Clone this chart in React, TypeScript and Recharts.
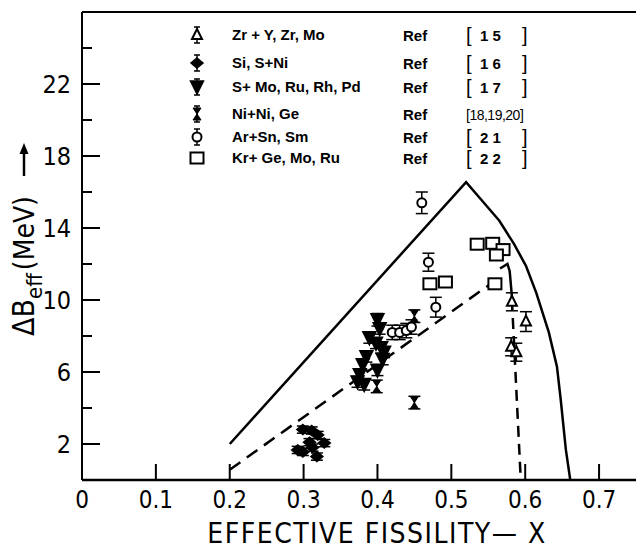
import React from 'react';
import { ComposedChart, XAxis, YAxis, Line, Scatter, ErrorBar, ReferenceLine } from 'recharts';

const xTicks = [0, 0.1, 0.2, 0.3, 0.4, 0.5, 0.6, 0.7];
const yTicks = [2, 4, 6, 8, 10, 12, 14, 16, 18, 20, 22, 24];
const yLabelled = [2, 6, 10, 14, 18, 22];

// Zr + Y,Zr,Mo  [15]
const zrX = [0.582, 0.601, 0.581, 0.588];
const zrY = [9.9, 8.8, 7.4, 7.1];
const zrErr = [0.5, 0.55, 0.5, 0.5];
// Si, S+Ni  [16]
const siX = [0.299, 0.311, 0.319, 0.328, 0.292, 0.299, 0.312, 0.318, 0.308];
const siY = [2.8, 2.75, 2.5, 2.05, 1.67, 1.56, 1.8, 1.3, 2.1];
const siErr = [0.2, 0.2, 0.2, 0.2, 0.2, 0.2, 0.2, 0.2, 0.2];
// S+Mo,Ru,Rh,Pd  [17]
const smX = [0.4, 0.403, 0.389, 0.398, 0.405, 0.385, 0.407, 0.38, 0.4, 0.376, 0.373, 0.382, 0.409];
const smY = [8.9, 8.4, 7.9, 7.6, 7.35, 6.85, 6.7, 6.4, 6.1, 5.85, 5.45, 5.3, 7.1];
const smErr = [0.35, 0.3, 0.3, 0.3, 0.3, 0.3, 0.3, 0.3, 0.3, 0.3, 0.3, 0.3, 0.3];
// Ni+Ni,Ge  [18,19,20]
const niX = [0.45, 0.399, 0.45];
const niY = [9.1, 5.2, 4.3];
const niErr = [0.35, 0.35, 0.35];
// Ar+Sn,Sm  [21]
const arX = [0.46, 0.469, 0.479, 0.42, 0.43, 0.439, 0.446];
const arY = [15.4, 12.1, 9.6, 8.2, 8.2, 8.3, 8.5];
const arErr = [0.6, 0.5, 0.55, 0.4, 0.4, 0.4, 0.4];
// Kr+Ge,Mo,Ru  [22]
const krX = [0.535, 0.556, 0.57, 0.561, 0.471, 0.492, 0.559];
const krY = [13.1, 13.15, 12.8, 12.5, 10.9, 11.0, 10.9];

// curves
const solidX = [0.2, 0.52, 0.542, 0.565, 0.585, 0.601, 0.615, 0.632, 0.643, 0.648, 0.655, 0.661];
const solidY = [2.0, 16.55, 15.5, 14.4, 13.1, 11.9, 10.4, 8.2, 6.3, 4.5, 1.7, 0];
const dashX = [0.2, 0.555];
const dashY = [0.57, 10.95];
const hookX = [0.566, 0.576, 0.579, 0.582];
const hookY = [11.75, 12.0, 11.6, 10.2];
const dropX = [0.582, 0.594];
const dropY = [10.0, 0];

const names = ['Zr + Y, Zr, Mo', 'Si,  S+Ni', 'S+ Mo, Ru, Rh, Pd', 'Ni+Ni, Ge', 'Ar+Sn, Sm', 'Kr+ Ge, Mo, Ru'];
const refs = ['15', '16', '17', '18,19,20', '21', '22'];

const pts = (xs: number[], ys: number[], errs?: number[]) =>
  xs.map((x, i) => ({ x, y: ys[i], err: errs ? errs[i] : 0 }));

const FONT = "'Liberation Sans Narrow', 'DejaVu Sans Condensed', 'Liberation Sans', sans-serif";
const LFONT = "'Liberation Sans', 'DejaVu Sans', sans-serif";

const TriUp = ({ cx, cy }: any) => (
  <polygon points={`${cx},${cy - 6} ${cx - 5},${cy + 4} ${cx + 5},${cy + 4}`} fill="#fff" stroke="#000" strokeWidth={2} />
);
const Diamond = ({ cx, cy }: any) => (
  <polygon points={`${cx},${cy - 5} ${cx + 6},${cy} ${cx},${cy + 5} ${cx - 6},${cy}`} fill="#000" stroke="#000" strokeWidth={1.5} />
);
const TriDown = ({ cx, cy }: any) => (
  <polygon points={`${cx - 6.5},${cy - 6} ${cx + 6.5},${cy - 6} ${cx},${cy + 7}`} fill="#000" stroke="#000" strokeWidth={1.5} />
);
const Hourglass = ({ cx, cy }: any) => (
  <polygon points={`${cx - 4},${cy - 6} ${cx + 4},${cy - 6} ${cx - 4},${cy + 6} ${cx + 4},${cy + 6}`} fill="#000" stroke="#000" strokeWidth={1} />
);
const Ring = ({ cx, cy }: any) => <circle cx={cx} cy={cy} r={4.5} fill="#fff" stroke="#000" strokeWidth={2} />;
const Square = ({ cx, cy }: any) => (
  <rect x={cx - 6.5} y={cy - 5.5} width={13} height={11} fill="#fff" stroke="#000" strokeWidth={2} />
);

const shapes = [TriUp, Diamond, TriDown, Hourglass, Ring, Square];
const rowY = [35, 63, 87, 114, 137, 158];

const XTick = ({ x, y, payload }: any) => (
  <g>
    <line x1={x} x2={x} y1={y} y2={y - 16} stroke="#000" strokeWidth={2} />
    <text x={x} y={y + 28} textAnchor="middle" fontSize={24} fontFamily={FONT} fill="#000">
      {payload.value === 0 ? '0' : payload.value.toFixed(1)}
    </text>
  </g>
);

const YTick = ({ x, y, payload }: any) => {
  const lab = yLabelled.includes(payload.value);
  return (
    <g>
      <line x1={x} x2={x + (lab ? 18 : 10)} y1={y} y2={y} stroke="#000" strokeWidth={2} />
      {lab && (
        <text x={x - 11} y={y + 9} textAnchor="end" fontSize={25} fontFamily={FONT} fill="#000">
          {payload.value}
        </text>
      )}
    </g>
  );
};

const LegendGlyph = ({ i, cx, cy }: any) => {
  const S = shapes[i];
  return (
    <g>
      {i !== 5 && (
        <g stroke="#000" strokeWidth={1.5}>
          <line x1={cx} x2={cx} y1={cy - 8} y2={cy + 8} />
          <line x1={cx - 3} x2={cx + 3} y1={cy - 8} y2={cy - 8} />
          <line x1={cx - 3} x2={cx + 3} y1={cy + 8} y2={cy + 8} />
        </g>
      )}
      <S cx={cx} cy={cy} />
    </g>
  );
};

export default function App() {
  const solid = pts(solidX, solidY);
  const dash = pts(dashX, dashY);
  const hook = pts(hookX, hookY);
  const drop = pts(dropX, dropY);
  const series = [
    pts(zrX, zrY, zrErr),
    pts(siX, siY, siErr),
    pts(smX, smY, smErr),
    pts(niX, niY, niErr),
    pts(arX, arY, arErr),
    pts(krX, krY),
  ];

  return (
    <div style={{ position: 'relative', width: 636, height: 552, background: '#fff' }}>
      <style>{'body{margin:0}'}</style>
      <ComposedChart width={636} height={552} margin={{ top: 12, right: 0, bottom: 0, left: 0 }}>
        <XAxis
          type="number"
          dataKey="x"
          domain={[0, 0.75]}
          ticks={xTicks}
          height={72}
          tickSize={0}
          tickMargin={0}
          tickLine={false}
          tick={<XTick />}
          axisLine={{ stroke: '#000', strokeWidth: 2.5 }}
          allowDataOverflow
        />
        <YAxis
          type="number"
          dataKey="y"
          domain={[0, 26]}
          ticks={yTicks}
          width={82}
          tickSize={0}
          tickMargin={0}
          tickLine={false}
          tick={<YTick />}
          axisLine={{ stroke: '#000', strokeWidth: 2 }}
          allowDataOverflow
        />
        <ReferenceLine y={26} stroke="#000" strokeWidth={2} />
        <Line data={solid} dataKey="y" type="linear" stroke="#000" strokeWidth={2.5} dot={false} isAnimationActive={false} />
        <Line data={dash} dataKey="y" type="linear" stroke="#000" strokeWidth={2.5} strokeDasharray="13 8" dot={false} isAnimationActive={false} />
        <Line data={hook} dataKey="y" type="linear" stroke="#000" strokeWidth={2.5} dot={false} isAnimationActive={false} />
        <Line data={drop} dataKey="y" type="linear" stroke="#000" strokeWidth={2.5} strokeDasharray="11 7" dot={false} isAnimationActive={false} />
        {series.map((d, i) => {
          const S = shapes[i];
          return (
            <Scatter key={i} data={d} shape={(p: any) => <S cx={p.cx} cy={p.cy} />} isAnimationActive={false}>
              {i !== 5 && <ErrorBar dataKey="err" direction="y" width={6} stroke="#000" strokeWidth={1.5} isAnimationActive={false} />}
            </Scatter>
          );
        })}
      </ComposedChart>
      <svg width={636} height={552} style={{ position: 'absolute', left: 0, top: 0, pointerEvents: 'none' }}>
        {names.map((n, i) => (
          <g key={n} fontFamily={LFONT} fontWeight="bold" fontSize={15} fill="#000">
            <LegendGlyph i={i} cx={197} cy={rowY[i]} />
            <text x={232} y={rowY[i] + 5}>{n}</text>
            <text x={403} y={rowY[i] + 6}>Ref</text>
            {i === 3 ? (
              <text x={466} y={rowY[i] + 6} fontSize={14} fontWeight="normal" letterSpacing={-0.5}>[18,19,20]</text>
            ) : (
              <g>
                <text x={466} y={rowY[i] + 7} fontSize={20} fontWeight="normal">[</text>
                <text x={480} y={rowY[i] + 6}>{refs[i].split('').join(' ')}</text>
                <text x={522} y={rowY[i] + 7} fontSize={20} fontWeight="normal">]</text>
              </g>
            )}
          </g>
        ))}
        <text transform="translate(34,336) rotate(-90)" fontFamily={FONT} fontSize={30} fill="#000">
          ΔB
          <tspan fontSize={22} dy={8}>eff</tspan>
          <tspan fontSize={28} dy={-8} dx={3}>(MeV)</tspan>
        </text>
        <line x1={24} x2={24} y1={176} y2={152} stroke="#000" strokeWidth={2.5} />
        <polygon points="24,143 19.5,154 28.5,154" fill="#000" />
        <text x={377} y={543} textAnchor="middle" fontFamily={FONT} fontSize={28} letterSpacing={1.5} fill="#000">
          EFFECTIVE FISSILITY— X
        </text>
      </svg>
    </div>
  );
}
